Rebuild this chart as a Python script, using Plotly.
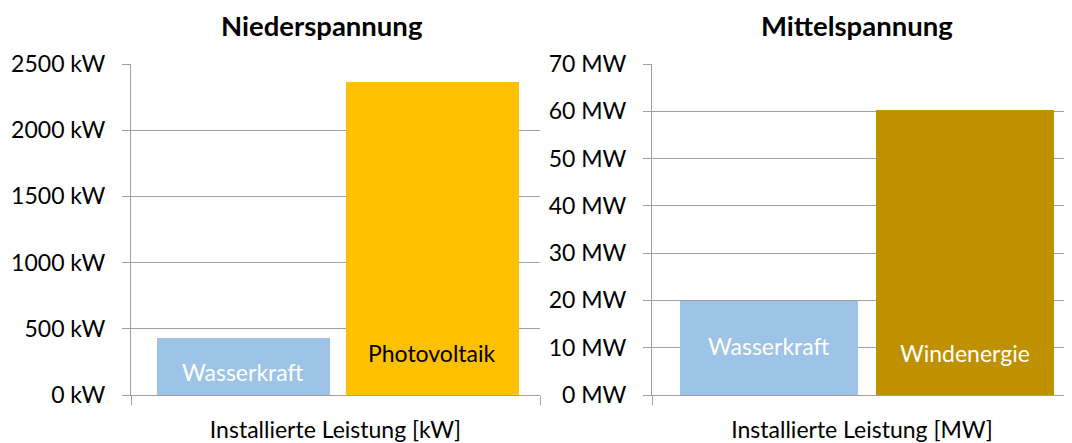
import plotly.graph_objects as go

# ---- data ----
nieder_names = ["Wasserkraft", "Photovoltaik"]
nieder_values_kw = [429, 2364]
mittel_names = ["Wasserkraft", "Windenergie"]
mittel_values_mw = [19.8, 60.2]
nieder_ticks = [0, 500, 1000, 1500, 2000, 2500]
mittel_ticks = [0, 10, 20, 30, 40, 50, 60, 70]
nieder_title = "Niederspannung"
mittel_title = "Mittelspannung"
nieder_xlabel = "Installierte Leistung [kW]"
mittel_xlabel = "Installierte Leistung [MW]"

# ---- styles ----
FONT = "Lato"
FS = 23
TFS = 27.5
GRID = "#a0a0a0"
nieder_colors = ["#9DC3E6", "#FFC000"]
mittel_colors = ["#9DC3E6", "#BF9000"]
nieder_text_colors = ["white", "black"]
mittel_text_colors = ["white", "white"]
nieder_label_shift = [23, 42]
mittel_label_shift = [49, 42]

OFF = 8  # page body margin
W, H = 1072 - OFF, 443 - OFF


def px(x):
    return (x - OFF) / W


def py(y):
    return 1 - (y - OFF) / H


ydom = [py(395), py(64)]

fig = go.Figure()

panels = [
    dict(names=nieder_names, vals=nieder_values_kw, colors=nieder_colors,
         tcol=nieder_text_colors, shift=nieder_label_shift, ticks=nieder_ticks,
         unit="kW", xl=nieder_xlabel, title=nieder_title,
         dom=[px(131), px(540)], xr=[-0.595, 1.569], ax="x", ay="y", bw=0.915),
    dict(names=mittel_names, vals=mittel_values_mw, colors=mittel_colors,
         tcol=mittel_text_colors, shift=mittel_label_shift, ticks=mittel_ticks,
         unit="MW", xl=mittel_xlabel, title=mittel_title,
         dom=[px(652), 1.0], xr=[-0.597, 1.546], ax="x2", ay="y2", bw=0.908),
]
title_centers = [322, 857]

annotations = []
for i, p in enumerate(panels):
    xs = list(range(len(p["names"])))
    fig.add_trace(go.Bar(
        x=xs, y=p["vals"], width=p["bw"], marker=dict(color=p["colors"], line=dict(width=0)),
        xaxis=p["ax"], yaxis=p["ay"], showlegend=False, hoverinfo="skip"))
    for j, name in enumerate(p["names"]):
        annotations.append(dict(
            x=xs[j], y=0, xref=p["ax"], yref=p["ay"], text=name, showarrow=False,
            xanchor="center", yanchor="middle", yshift=p["shift"][j],
            font=dict(family=FONT, size=FS, color=p["tcol"][j])))
    annotations.append(dict(
        x=px(title_centers[i]), y=py(25), xref="paper", yref="paper",
        text="<b>" + p["title"] + "</b>", showarrow=False,
        xanchor="center", yanchor="middle",
        font=dict(family=FONT, size=TFS, color="black")))
    suffix = "" if i == 0 else "2"
    fig.update_layout(**{
        "xaxis" + suffix: dict(
            domain=p["dom"], range=p["xr"], showgrid=False, zeroline=False,
            showline=True, linecolor=GRID, linewidth=1,
            tickvals=p["xr"], ticktext=["", ""], ticks="outside", ticklen=9,
            tickcolor=GRID, anchor="y" + suffix, automargin=False,
            title=dict(text=p["xl"], standoff=14,
                       font=dict(family=FONT, size=FS, color="black")),
            fixedrange=True),
        "yaxis" + suffix: dict(
            domain=ydom, range=[0, p["ticks"][-1]], tickvals=p["ticks"],
            ticktext=[f"{t} {p['unit']}" for t in p["ticks"]],
            showgrid=True, gridcolor=GRID, gridwidth=1, zeroline=False,
            showline=True, linecolor=GRID, linewidth=1,
            ticks="outside", ticklen=8, tickcolor=GRID, ticklabelstandoff=12,
            tickfont=dict(family=FONT, size=FS, color="black"),
            anchor="x" + suffix, fixedrange=True, automargin=False),
    })

fig.update_layout(
    template="none",
    width=W, height=H, margin=dict(l=0, r=0, t=0, b=0, autoexpand=False),
    paper_bgcolor="white", plot_bgcolor="white",
    annotations=annotations, bargap=0,
    font=dict(family=FONT, size=FS, color="black"),
)

fig.write_html("out.html")
